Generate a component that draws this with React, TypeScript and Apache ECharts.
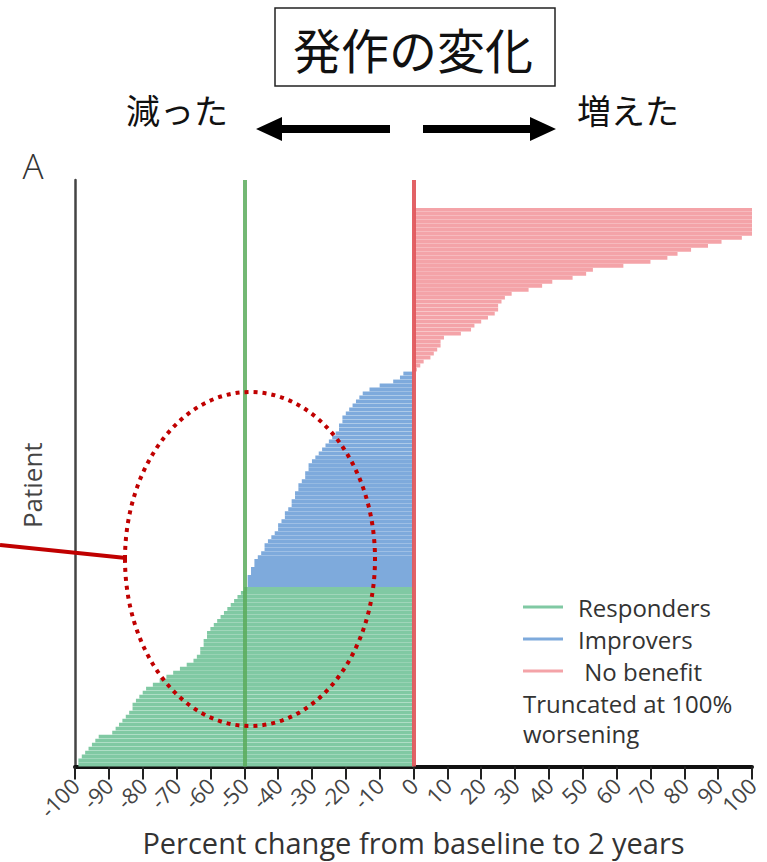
import React, { useEffect, useRef } from "react";
import * as echarts from "echarts";

// Percent change from baseline to 2 years, one value per patient, bottom to top
const responders = [
  -99, -99, -98, -97, -96, -95, -94, -93, -89, -88, -87, -86, -85, -84, -83, -83,
  -82, -81, -80, -79, -77, -75, -73, -71, -69, -67, -65, -64, -63, -63, -62, -62,
  -61, -61, -60, -59, -58, -57, -56, -55, -54, -53, -52, -51, -50,
];
const improvers = [
  -49, -49, -49, -48, -48, -47, -47, -46, -45, -44, -44, -43, -42, -41, -40, -40,
  -39, -38, -38, -37, -36, -36, -35, -35, -34, -34, -33, -32, -32, -31, -31, -30,
  -29, -28, -27, -26, -25, -24, -23, -22, -22, -21, -21, -20, -19, -18, -17, -16,
  -15, -13, -10, -6, -4, -3,
];
const noBenefit = [
  1, 2, 3, 5, 6, 7, 8, 8, 9, 14, 17, 18, 20, 22, 24, 25, 25, 26, 27, 29, 34, 38,
  41, 47, 51, 53, 62, 70, 75, 78, 82, 87, 91, 97, 100, 100, 100, 100, 100, 100, 100,
];
const TOTAL_SLOTS = 147; // patient slots on the axis (top ones empty)
const xTicks = [-100, 100, 10];
const legendNames = ["Responders", "Improvers", " No benefit"];
const noteLines = ["Truncated at 100%", "worsening"];
const thresholds = [-50, 0];

const COLORS = {
  green: "#80c9a3",
  blue: "#7eaadc",
  red: "#f4a3a8",
  greenLine: "#5aab5c",
  redLine: "#e05a5e",
};

export default function App() {
  const ref = useRef<HTMLDivElement>(null);
  useEffect(() => {
    if (!ref.current) return;
    const chart = echarts.init(ref.current, null, { renderer: "svg" });
    const categories = Array.from({ length: TOTAL_SLOTS }, (_, i) => `P${i + 1}`);
    const n1 = responders.length;
    const n2 = improvers.length;
    const dataFor = (arr: number[], offset: number) =>
      categories.map((_, i) =>
        i >= offset && i < offset + arr.length ? arr[i - offset] : "-"
      );
    const font = "'Open Sans', 'Noto Sans', sans-serif";
    const jp = "'Noto Sans CJK JP', sans-serif";
    const barCommon = { type: "bar", barGap: "-100%", barCategoryGap: "4%" };
    const option: any = {
      animation: false,
      backgroundColor: "#fff",
      grid: { left: 75, right: 15, top: 180, bottom: 93, containLabel: false },
      xAxis: {
        type: "value",
        min: xTicks[0],
        max: xTicks[1],
        interval: xTicks[2],
        splitLine: { show: false },
        axisLine: { show: true, lineStyle: { color: "#111", width: 4 } },
        axisTick: { show: true, length: 13, lineStyle: { color: "#222", width: 2 } },
        axisLabel: {
          rotate: 45,
          fontSize: 22,
          color: "#444",
          fontFamily: font,
          margin: 15,
        },
        name: "Percent change from baseline to 2 years",
        nameLocation: "middle",
        nameGap: 60,
        nameTextStyle: { fontSize: 29, color: "#333", fontFamily: font },
      },
      yAxis: {
        type: "category",
        data: categories,
        axisLine: { show: true, onZero: false, lineStyle: { color: "#444", width: 2.5 } },
        axisTick: { show: false },
        axisLabel: { show: false },
        splitLine: { show: false },
        name: "Patient",
        nameLocation: "middle",
        nameGap: 30,
        nameRotate: 90,
        nameTextStyle: { fontSize: 26, color: "#444", fontFamily: font, padding: [0, 24, 0, 0] },
      },
      legend: {
        orient: "vertical",
        left: 523,
        top: 595,
        padding: 0,
        itemWidth: 40,
        itemHeight: 3,
        itemGap: 8,
        icon: "rect",
        data: legendNames,
        selectedMode: false,
        textStyle: {
          fontSize: 24,
          lineHeight: 24,
          color: "#333",
          fontFamily: font,
          padding: [0, 0, 0, 10],
        },
      },
      series: [
        {
          ...barCommon,
          name: legendNames[0],
          data: dataFor(responders, 0),
          itemStyle: { color: COLORS.green },
        },
        {
          ...barCommon,
          name: legendNames[1],
          data: dataFor(improvers, n1),
          itemStyle: { color: COLORS.blue },
        },
        {
          ...barCommon,
          name: legendNames[2],
          data: dataFor(noBenefit, n1 + n2),
          itemStyle: { color: COLORS.red },
          markLine: {
            silent: true,
            symbol: "none",
            label: { show: false },
            data: [
              { xAxis: thresholds[0], lineStyle: { color: COLORS.greenLine, width: 4, type: "solid", opacity: 0.85 } },
              { xAxis: thresholds[1], lineStyle: { color: COLORS.redLine, width: 4, type: "solid", opacity: 0.95 } },
            ],
          },
        },
      ],
      graphic: [
        {
          type: "rect",
          shape: { x: 275, y: 8, width: 280, height: 78 },
          style: { fill: "#fff", stroke: "#222", lineWidth: 1.5 },
        },
        {
          type: "text",
          x: 413,
          y: 48,
          style: {
            text: "発作の変化",
            font: `48px ${jp}`,
            fill: "#111",
            align: "center",
            verticalAlign: "middle",
          },
        },
        {
          type: "text",
          x: 177,
          y: 109,
          style: { text: "減った", font: `34px ${jp}`, fill: "#111", align: "center", verticalAlign: "middle" },
        },
        {
          type: "text",
          x: 628,
          y: 109,
          style: { text: "増えた", font: `34px ${jp}`, fill: "#111", align: "center", verticalAlign: "middle" },
        },
        {
          type: "polygon",
          shape: {
            points: [
              [256, 129], [282, 117], [282, 125], [390, 125], [390, 133], [282, 133], [282, 141],
            ],
          },
          style: { fill: "#000" },
        },
        {
          type: "polygon",
          shape: {
            points: [
              [556, 129], [530, 117], [530, 125], [423, 125], [423, 133], [530, 133], [530, 141],
            ],
          },
          style: { fill: "#000" },
        },
        {
          type: "text",
          x: 33,
          y: 165,
          style: {
            text: "A",
            font: `300 35px ${font}`,
            fill: "#333",
            align: "center",
            verticalAlign: "middle",
          },
        },
        {
          type: "text",
          x: 523,
          y: 703,
          style: { text: noteLines[0], font: `24px ${font}`, lineHeight: 24, fill: "#333", verticalAlign: "middle" },
        },
        {
          type: "text",
          x: 523,
          y: 733,
          style: { text: noteLines[1], font: `24px ${font}`, lineHeight: 24, fill: "#333", verticalAlign: "middle" },
        },
        {
          type: "ellipse",
          shape: { cx: 250, cy: 559, rx: 125, ry: 167 },
          style: { fill: "none", stroke: "#c00000", lineWidth: 4, lineDash: [4, 5] },
          z: 100,
        },
        {
          type: "line",
          shape: { x1: 0, y1: 545, x2: 126, y2: 558 },
          style: { stroke: "#c00000", lineWidth: 4 },
          z: 100,
        },
      ],
    };
    chart.setOption(option);
    return () => chart.dispose();
  }, []);
  return <div ref={ref} style={{ width: 767, height: 862, position: "absolute", left: 0, top: 0 }} />;
}
